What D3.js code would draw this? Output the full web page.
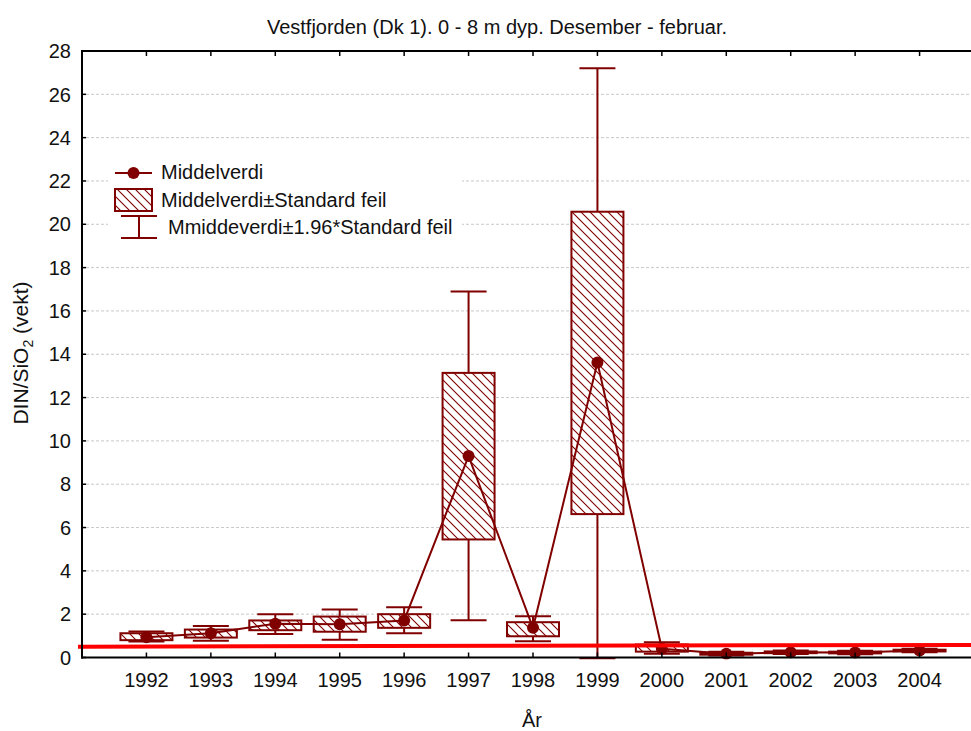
<!DOCTYPE html>
<html>
<head>
<meta charset="utf-8">
<script src="https://cdn.jsdelivr.net/npm/d3@7"></script>
<style>
  html, body { margin: 0; padding: 0; background: #fff; }
  svg { display: block; font-family: "Liberation Sans", Arial, sans-serif; }
</style>
</head>
<body>
<svg id="chart" width="971" height="731"></svg>
<script>
// ---- data ----
const years  = [1992, 1993, 1994, 1995, 1996, 1997, 1998, 1999, 2000, 2001, 2002, 2003, 2004];
const means  = [0.94, 1.12, 1.56, 1.54, 1.71, 9.30, 1.37, 13.62, 0.40, 0.17, 0.24, 0.23, 0.32];
const seLow  = [0.80, 0.92, 1.26, 1.19, 1.37, 5.45, 0.98, 6.62, 0.27, 0.13, 0.20, 0.19, 0.28];
const seHigh = [1.12, 1.29, 1.71, 1.89, 2.00, 13.14, 1.63, 20.58, 0.60, 0.22, 0.28, 0.27, 0.36];
const ciLow  = [0.74, 0.77, 1.09, 0.82, 1.12, 1.72, 0.75, -0.05, 0.17, 0.09, 0.16, 0.15, 0.24];
const ciHigh = [1.20, 1.45, 2.00, 2.22, 2.32, 16.90, 1.91, 27.20, 0.70, 0.26, 0.32, 0.31, 0.40];
const yTicks = [0, 2, 4, 6, 8, 10, 12, 14, 16, 18, 20, 22, 24, 26, 28];
const refLine = [0.50, 0.58];   // red reference line, left and right end values
const titleText = "Vestfjorden (Dk 1). 0 - 8 m dyp. Desember - februar.";
const xTitle = "År";
const legendLabels = ["Middelverdi", "Middelverdi±Standard feil", "Mmiddeverdi±1.96*Standard feil"];

// ---- layout ----
const W = 971, H = 731;
const L = 82, R = 984, T = 51, B = 657.5;
const dark = "#800000";
const fontSize = 20;

const svg = d3.select("#chart");
const x = d3.scaleLinear().domain([1991, 2005]).range([L, R]);
const y = d3.scaleLinear().domain([0, 28]).range([B, T]);

const defs = svg.append("defs");
const pat = defs.append("pattern").attr("id", "hatch")
  .attr("patternUnits", "userSpaceOnUse").attr("width", 9).attr("height", 9);
pat.append("rect").attr("width", 9).attr("height", 9).attr("fill", "#fff");
pat.append("path").attr("d", "M-1,-1 L10,10 M-10,-1 L1,10 M8,-1 L19,10")
  .attr("stroke", dark).attr("stroke-width", 1.1);
defs.append("clipPath").attr("id", "clip").append("rect")
  .attr("x", L).attr("y", T).attr("width", R - L).attr("height", B - T + 2);

// gridlines
svg.append("g").selectAll("line").data(yTicks.filter(d => d > 0 && d < 28)).join("line")
  .attr("x1", L + 4).attr("x2", W).attr("y1", d => y(d)).attr("y2", d => y(d))
  .attr("stroke", "#c8c8c8").attr("stroke-width", 1).attr("stroke-dasharray", "3,2");

// title
svg.append("text").attr("x", 497).attr("y", 34).attr("text-anchor", "middle")
  .attr("font-size", 20).attr("fill", "#111").text(titleText);

// plot content
const plot = svg.append("g").attr("clip-path", "url(#clip)");
const idx = d3.range(years.length);
const bw = 52, cw = 36;

// whiskers
plot.append("g").selectAll("g").data(idx).join("g").each(function(i) {
  const g = d3.select(this);
  const cx = x(years[i]);
  g.append("line").attr("x1", cx).attr("x2", cx).attr("y1", y(ciHigh[i])).attr("y2", y(ciLow[i]))
    .attr("stroke", dark).attr("stroke-width", 2);
  g.append("line").attr("x1", cx - cw / 2).attr("x2", cx + cw / 2).attr("y1", y(ciHigh[i])).attr("y2", y(ciHigh[i]))
    .attr("stroke", dark).attr("stroke-width", 2);
  g.append("line").attr("x1", cx - cw / 2).attr("x2", cx + cw / 2).attr("y1", y(ciLow[i])).attr("y2", y(ciLow[i]))
    .attr("stroke", dark).attr("stroke-width", 2);
});

// boxes
plot.append("g").selectAll("rect").data(idx).join("rect")
  .attr("x", i => x(years[i]) - bw / 2).attr("width", bw)
  .attr("y", i => y(seHigh[i])).attr("height", i => y(seLow[i]) - y(seHigh[i]))
  .attr("fill", "url(#hatch)").attr("stroke", dark).attr("stroke-width", 2);

// mean line
plot.append("path").datum(idx)
  .attr("d", d3.line().x(i => x(years[i])).y(i => y(means[i])))
  .attr("fill", "none").attr("stroke", dark).attr("stroke-width", 2);
plot.append("g").selectAll("circle").data(idx).join("circle")
  .attr("cx", i => x(years[i])).attr("cy", i => y(means[i])).attr("r", 6).attr("fill", dark);

// red reference line
svg.append("line").attr("x1", 78).attr("x2", W)
  .attr("y1", y(refLine[0])).attr("y2", y(refLine[1]))
  .attr("stroke", "#ff0000").attr("stroke-width", 4);

// axes frame
svg.append("line").attr("x1", L).attr("x2", L).attr("y1", T).attr("y2", B + 1)
  .attr("stroke", "#000").attr("stroke-width", 2);
svg.append("line").attr("x1", L - 1).attr("x2", W).attr("y1", T).attr("y2", T)
  .attr("stroke", "#000").attr("stroke-width", 2);
svg.append("line").attr("x1", L - 1).attr("x2", W).attr("y1", B).attr("y2", B)
  .attr("stroke", "#000").attr("stroke-width", 2);

// y ticks
svg.append("g").selectAll("line").data(yTicks).join("line")
  .attr("x1", L).attr("x2", L + 4).attr("y1", d => y(d)).attr("y2", d => y(d))
  .attr("stroke", "#000").attr("stroke-width", 1.5);
svg.append("g").selectAll("text").data(yTicks).join("text")
  .attr("x", 71).attr("y", d => y(d)).attr("dy", "0.36em").attr("text-anchor", "end")
  .attr("font-size", fontSize).attr("fill", "#111").text(d => d);

// x ticks (top and bottom, inward)
svg.append("g").selectAll("line").data(years).join("line")
  .attr("x1", d => x(d)).attr("x2", d => x(d)).attr("y1", B).attr("y2", B - 5)
  .attr("stroke", "#000").attr("stroke-width", 1.5);
svg.append("g").selectAll("line").data(years).join("line")
  .attr("x1", d => x(d)).attr("x2", d => x(d)).attr("y1", T).attr("y2", T + 5)
  .attr("stroke", "#000").attr("stroke-width", 1.5);
svg.append("g").selectAll("text").data(years).join("text")
  .attr("x", d => x(d)).attr("y", 687).attr("text-anchor", "middle")
  .attr("font-size", fontSize).attr("fill", "#111").text(d => d);

// axis titles
svg.append("text").attr("x", 532).attr("y", 727).attr("text-anchor", "middle")
  .attr("font-size", fontSize).attr("fill", "#111").text(xTitle);
const yl = svg.append("text").attr("transform", "translate(28,353) rotate(-90)")
  .attr("text-anchor", "middle").attr("font-size", 21).attr("fill", "#111");
yl.append("tspan").text("DIN/SiO");
yl.append("tspan").attr("font-size", 14).attr("dy", 5).text("2");
yl.append("tspan").attr("dy", -5).text(" (vekt)");

// legend
const lg = svg.append("g");
lg.append("rect").attr("x", 108).attr("y", 158).attr("width", 354).attr("height", 88).attr("fill", "#fff");
lg.append("line").attr("x1", 115).attr("x2", 152).attr("y1", 173).attr("y2", 173)
  .attr("stroke", dark).attr("stroke-width", 2);
lg.append("circle").attr("cx", 133.5).attr("cy", 173).attr("r", 6).attr("fill", dark);
lg.append("rect").attr("x", 115).attr("y", 189).attr("width", 37).attr("height", 22)
  .attr("fill", "url(#hatch)").attr("stroke", dark).attr("stroke-width", 2);
lg.append("line").attr("x1", 139).attr("x2", 139).attr("y1", 216).attr("y2", 238).attr("stroke", dark).attr("stroke-width", 2);
lg.append("line").attr("x1", 121).attr("x2", 157).attr("y1", 216).attr("y2", 216).attr("stroke", dark).attr("stroke-width", 2);
lg.append("line").attr("x1", 121).attr("x2", 157).attr("y1", 238).attr("y2", 238).attr("stroke", dark).attr("stroke-width", 2);
lg.append("text").attr("x", 161).attr("y", 179).attr("font-size", fontSize).attr("fill", "#111").text(legendLabels[0]);
lg.append("text").attr("x", 161).attr("y", 207).attr("font-size", fontSize).attr("fill", "#111").text(legendLabels[1]);
lg.append("text").attr("x", 168).attr("y", 234).attr("font-size", fontSize).attr("fill", "#111").text(legendLabels[2]);
</script>
</body>
</html>
